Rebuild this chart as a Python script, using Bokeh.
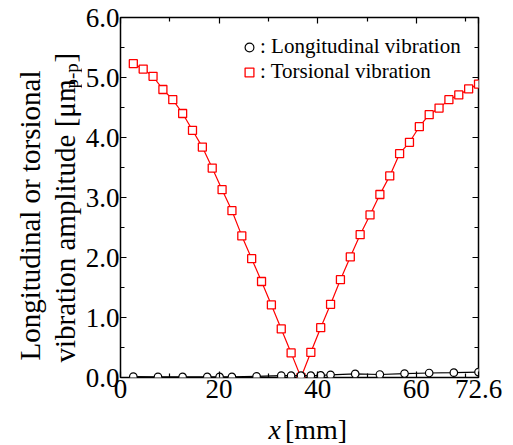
import math
from bokeh.plotting import figure
from bokeh.layouts import row, column
from bokeh.models import (Range1d, LinearAxis, FixedTicker, NumeralTickFormatter,
                          CustomJSTickFormatter, Legend, LegendItem, Label)
from bokeh.embed import file_html
from bokeh.resources import INLINE

# ---- data ----
tors_x = [2.6, 4.6, 6.6, 8.6, 10.6, 12.6, 14.6, 16.6, 18.6, 20.6, 22.6, 24.6,
          26.6, 28.6, 30.6, 32.6, 34.6, 36.6, 38.6, 40.6, 42.6, 44.6, 46.6, 48.6,
          50.6, 52.6, 54.6, 56.6, 58.6, 60.6, 62.6, 64.6, 66.6, 68.6, 70.6, 72.6]
tors_y = [5.23, 5.14, 5.02, 4.80, 4.63, 4.40, 4.12, 3.84, 3.49, 3.13, 2.78, 2.36,
          1.98, 1.60, 1.21, 0.81, 0.41, 0.00, 0.42, 0.83, 1.22, 1.63, 2.01, 2.38,
          2.71, 3.05, 3.36, 3.73, 3.92, 4.18, 4.38, 4.49, 4.63, 4.71, 4.81, 4.89]

long_x = [2.6, 7.6, 12.6, 17.6, 20.1, 22.6, 27.6, 32.6, 34.6, 36.6, 38.6, 40.6,
          42.6, 47.6, 52.6, 57.6, 62.6, 67.6, 72.6]
long_y = [0.015, 0.01, 0.01, 0.01, 0.01, 0.01, 0.02, 0.03, 0.03, 0.03, 0.03, 0.035,
          0.045, 0.06, 0.05, 0.065, 0.075, 0.08, 0.09]

x_ticks = [0, 20, 40, 60, 72.6]
x_minor = [10, 30, 50, 70]
y_ticks = [0, 1, 2, 3, 4, 5, 6]
y_minor = [0.5, 1.5, 2.5, 3.5, 4.5, 5.5]

FONT = "Liberation Serif"
W_LEFT = 82      # strip holding the y-axis title
H_BOTTOM = 33    # strip holding the x-axis title
W_MAIN = 513 - W_LEFT
H_MAIN = 445 - H_BOTTOM

p = figure(width=W_MAIN, height=H_MAIN, output_backend="svg", toolbar_location=None,
           x_range=Range1d(0, 72.6), y_range=Range1d(0, 6.0),
           min_border_left=35, min_border_top=17, min_border_right=35,
           min_border_bottom=35, x_axis_location=None, y_axis_location=None)
p.title.visible = False
p.grid.visible = False
p.outline_line_color = "black"
p.outline_line_width = 1.5
p.background_fill_color = "white"
p.border_fill_color = "white"

xt = FixedTicker(ticks=x_ticks, minor_ticks=x_minor)
yt = FixedTicker(ticks=y_ticks, minor_ticks=y_minor)

def style(ax, labels=True):
    ax.axis_line_color = None
    ax.major_tick_in = 6
    ax.major_tick_out = 0
    ax.minor_tick_in = 4
    ax.minor_tick_out = 0
    ax.major_tick_line_color = "black"
    ax.minor_tick_line_color = "black"
    ax.major_tick_line_width = 1.2
    ax.minor_tick_line_width = 1.2
    if labels:
        ax.major_label_text_font = FONT
        ax.major_label_text_font_size = "27px"
        ax.major_label_text_color = "black"
        ax.major_label_standoff = 1
    else:
        ax.formatter = CustomJSTickFormatter(code="return '';")
        ax.major_label_text_font_size = "0px"
        ax.major_label_standoff = 0

xb = LinearAxis(ticker=xt, formatter=CustomJSTickFormatter(
    code="return (Math.abs(tick - Math.round(tick)) < 1e-9) ? tick.toFixed(0) : tick.toFixed(1);"))
style(xb)
xb.major_label_standoff = 2
p.add_layout(xb, "below")
xa = LinearAxis(ticker=xt)
style(xa, False)
p.add_layout(xa, "above")
yl = LinearAxis(ticker=yt, formatter=NumeralTickFormatter(format="0.0"))
style(yl)
p.add_layout(yl, "left")
yr = LinearAxis(ticker=yt)
style(yr, False)
p.add_layout(yr, "right")

# torsional
p.line(tors_x, tors_y, line_color="#ff0000", line_width=1.2)
sq = p.scatter(tors_x, tors_y, marker="square", size=8, fill_color="white",
               line_color="#ff0000", line_width=1.3)
# longitudinal
p.line(long_x, long_y, line_color="black", line_width=1.2)
ci = p.scatter(long_x, long_y, marker="circle", size=7.5, fill_color="white",
               line_color="black", line_width=1.2)

leg = Legend(items=[LegendItem(label=": Longitudinal vibration", renderers=[ci]),
                    LegendItem(label=": Torsional vibration", renderers=[sq])],
             location=(118, 293), padding=0, margin=0, spacing=0,
             glyph_width=22, glyph_height=22, label_height=22, label_standoff=0,
             label_text_font=FONT, label_text_font_size="21px",
             label_text_color="black", border_line_color=None,
             background_fill_alpha=0)
p.add_layout(leg, "center")

def strip(w, h):
    f = figure(width=w, height=h, output_backend="svg", toolbar_location=None,
               x_range=Range1d(0, w), y_range=Range1d(0, h), min_border=0,
               x_axis_location=None, y_axis_location=None)
    f.title.visible = False
    f.grid.visible = False
    f.outline_line_color = None
    f.background_fill_color = "white"
    f.border_fill_color = "white"
    return f

def lab(f, x, y, text, size="29px", style="normal", align="left", baseline="middle", angle=0.0):
    f.add_layout(Label(x=x, y=y, text=text, text_font=FONT, text_font_size=size,
                       text_font_style=style, text_align=align, text_baseline=baseline,
                       angle=angle, text_color="black"))

# y-axis title strip (coordinates in pixels of the strip, origin bottom-left)
ys = strip(W_LEFT, 445)
ang = math.pi / 2
lab(ys, 29, 85, "Longitudinal or torsional", angle=ang)
lab(ys, 64, 83, "vibration amplitude [\u03bcm", angle=ang)
lab(ys, 71, 357, "p-p", size="19px", angle=ang)
lab(ys, 64, 383, "]", angle=ang)

# x-axis title strip
xs = strip(W_MAIN, H_BOTTOM)
lab(xs, 193, 16, "x", size="28px", style="italic", align="right")
lab(xs, 198, 16, "[mm]", size="28px")

layout = row(ys, column(p, xs, spacing=0), spacing=0)

open("out.html", "w").write(file_html(layout, INLINE))
